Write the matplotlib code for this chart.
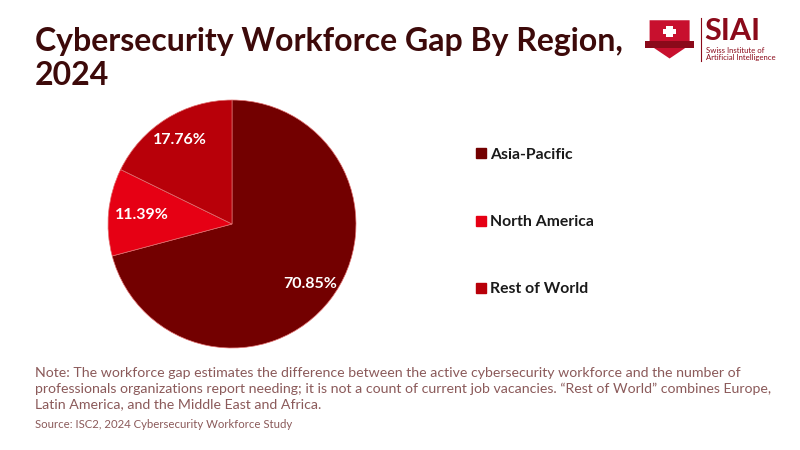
import matplotlib.pyplot as plt
from matplotlib.patches import Polygon, Rectangle
from matplotlib.lines import Line2D

# data
regions = ['Asia-Pacific', 'North America', 'Rest of World']
shares = [70.85, 11.39, 17.76]
colors = ['#730000', '#E60014', '#B80009']

title = 'Cybersecurity Workforce Gap By Region,\n2024'
note = ('Note: The workforce gap estimates the difference between the active cybersecurity workforce and the number of\n'
        'professionals organizations report needing; it is not a count of current job vacancies. \u201cRest of World\u201d combines Europe,\n'
        'Latin America, and the Middle East and Africa.')
source = 'Source: ISC2, 2024 Cybersecurity Workforce Study'

plt.rcParams['font.family'] = ['Lato', 'DejaVu Sans']

fig = plt.figure(figsize=(8, 4.5), dpi=100)
fig.patch.set_facecolor('white')

# pie
ax = fig.add_axes([0.135, 0.2267, 0.31, 0.551])
wedges, texts, autotexts = ax.pie(shares, colors=colors, startangle=90, counterclock=False,
                                  autopct='%.2f%%', pctdistance=0.8,
                                  wedgeprops=dict(linewidth=0.5, edgecolor='#e07070'),
                                  textprops=dict(color='white', fontsize=11.5, fontweight='bold'))
# the small slice label sits a bit further inside
x, y = autotexts[1].get_position()
autotexts[1].set_position((x * 0.91, y * 0.91))
ax.set_xlim(-1, 1)
ax.set_ylim(-1, 1)
ax.set_aspect('equal')

# legend
handles = [Line2D([0], [0], marker='s', color='none', markerfacecolor=c, markeredgecolor=c, markersize=7)
           for c in colors]
leg = fig.legend(handles, regions, loc='upper left', bbox_to_anchor=(0.578, 0.703), frameon=False,
                 labelspacing=3.4, handlelength=0.6, handletextpad=0.25,
                 prop=dict(size=11.3, weight='bold'))
for t in leg.get_texts():
    t.set_color('#1a1a1a')

# title
fig.text(0.044, 0.94, title, fontsize=23, fontweight='bold', color='#3D0A0A',
         va='top', ha='left', linespacing=1.2)

# notes
fig.text(0.044, 0.185, note, fontsize=10.2, color='#8B5A5A', va='top', ha='left', linespacing=1.36)
fig.text(0.044, 0.07, source, fontsize=8.2, color='#8B5A5A', va='top', ha='left')

# logo
shield = Polygon([[0.812, 0.955], [0.862, 0.955], [0.862, 0.9], [0.837, 0.87], [0.812, 0.9]],
                 closed=True, transform=fig.transFigure, facecolor='#C8102E', edgecolor='none')
fig.add_artist(shield)
ribbon = Rectangle((0.806, 0.893), 0.062, 0.016, transform=fig.transFigure,
                   facecolor='#8B0A1A', edgecolor='none')
fig.add_artist(ribbon)
fig.add_artist(Rectangle((0.833, 0.917), 0.008, 0.026, transform=fig.transFigure,
                         facecolor='white', edgecolor='none'))
fig.add_artist(Rectangle((0.8285, 0.9255), 0.017, 0.009, transform=fig.transFigure,
                         facecolor='white', edgecolor='none'))
fig.add_artist(Line2D([0.876, 0.876], [0.865, 0.96], transform=fig.transFigure,
                      color='#8B0A1A', linewidth=0.8))
fig.text(0.88, 0.9, 'SIAI', fontsize=22, fontweight='bold', color='#8B0A1A', va='bottom', ha='left')
fig.text(0.882, 0.864, 'Swiss Institute of\nArtificial Intelligence', fontsize=5.6, color='#8B0A1A',
         va='bottom', ha='left', linespacing=1.0)

fig.savefig('out.png', dpi=100)
